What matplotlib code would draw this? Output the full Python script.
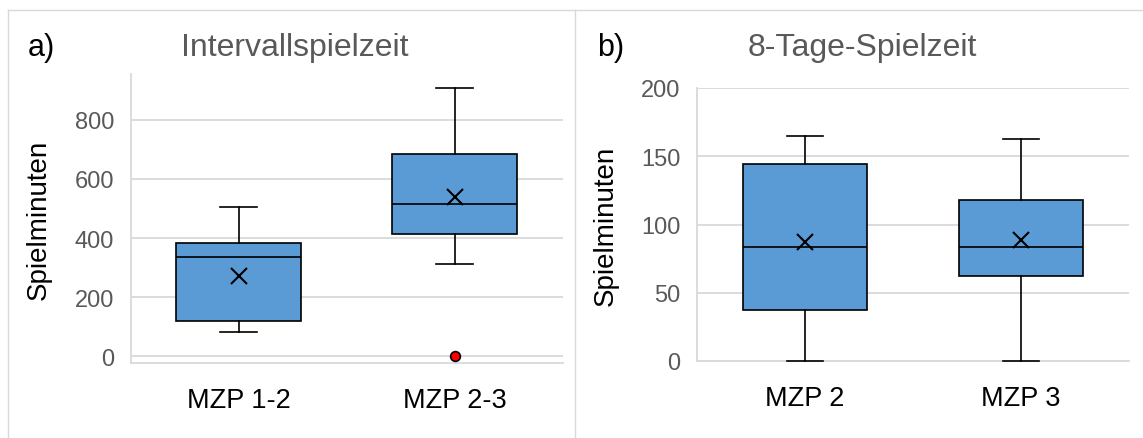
import matplotlib.pyplot as plt
from matplotlib.lines import Line2D

plt.rcParams['font.family'] = ['Liberation Sans', 'DejaVu Sans']

# a) Intervallspielzeit
cats_a = ["MZP 1-2", "MZP 2-3"]
whislo_a = [83, 312]
q1_a = [120, 415]
med_a = [336, 515]
q3_a = [383, 684]
whishi_a = [505, 907]
mean_a = [272, 540]
fliers_a = [[], [0]]

# b) 8-Tage-Spielzeit
cats_b = ["MZP 2", "MZP 3"]
whislo_b = [0, 0]
q1_b = [37, 62]
med_b = [83.5, 83.5]
q3_b = [144, 118]
whishi_b = [164.5, 163]
mean_b = [87, 88.5]
fliers_b = [[], []]

W, H = 1143, 439
grid_col = '#d9d9d9'
text_gray = '#595959'
box_col = '#5B9BD5'

fig = plt.figure(figsize=(W / 100, H / 100), dpi=100)
ax1 = fig.add_axes([130.7 / W, 1 - 364 / H, 432 / W, 289 / H])
ax2 = fig.add_axes([697 / W, 1 - 362 / H, 432 / W, 273 / H])


def draw(ax, cats, whislo, q1, med, q3, whishi, mean, fliers):
    stats = []
    for i in range(len(cats)):
        stats.append(dict(label=cats[i], whislo=whislo[i], q1=q1[i], med=med[i],
                          q3=q3[i], whishi=whishi[i], mean=mean[i], fliers=fliers[i]))
    parts = ax.bxp(stats, positions=[1, 2], widths=0.578, capwidths=0.17,
                   showmeans=True, patch_artist=True, zorder=3,
                   boxprops=dict(facecolor=box_col, edgecolor='black', linewidth=1.2),
                   medianprops=dict(color='black', linewidth=1.2),
                   whiskerprops=dict(color='black', linewidth=1.2),
                   capprops=dict(color='black', linewidth=1.2),
                   meanprops=dict(marker='x', markeredgecolor='black', markersize=12,
                                  markeredgewidth=1.5),
                   flierprops=dict(marker='o', markerfacecolor='red',
                                   markeredgecolor='black', markersize=7,
                                   markeredgewidth=1.2))
    for key in parts:
        for art in parts[key]:
            art.set_clip_on(False)
    ax.set_xlim(0.5, 2.5)
    ax.set_axisbelow(True)
    ax.yaxis.grid(True, color=grid_col, linewidth=1.3)
    for s in ['top', 'right']:
        ax.spines[s].set_visible(False)
    for s in ['left', 'bottom']:
        ax.spines[s].set_color(grid_col)
        ax.spines[s].set_linewidth(1.3)
    ax.tick_params(axis='y', length=0, labelsize=17, labelcolor=text_gray, pad=12)
    ax.tick_params(axis='x', length=0, labelsize=19.5, labelcolor='black', pad=17)


draw(ax1, cats_a, whislo_a, q1_a, med_a, q3_a, whishi_a, mean_a, fliers_a)
ax1.set_ylim(-22, 954)
ax1.set_yticks([0, 200, 400, 600, 800])

draw(ax2, cats_b, whislo_b, q1_b, med_b, q3_b, whishi_b, mean_b, fliers_b)
ax2.set_ylim(0, 200)
ax2.set_yticks([0, 50, 100, 150, 200])

# titles, panel letters, y labels
fig.text(295 / W, 1 - 56 / H, "Intervallspielzeit", ha='center', va='baseline',
         fontsize=23, color=text_gray)
fig.text(862 / W, 1 - 56 / H, "8-Tage-Spielzeit", ha='center', va='baseline',
         fontsize=23, color=text_gray)
fig.text(28 / W, 1 - 56 / H, "a)", ha='left', va='baseline', fontsize=22, color='black')
fig.text(597 / W, 1 - 56 / H, "b)", ha='left', va='baseline', fontsize=22, color='black')
fig.text(39 / W, 1 - 219.5 / H, "Spielminuten", rotation=90, ha='center', va='center',
         fontsize=20, color='black')
fig.text(606 / W, 1 - 225.5 / H, "Spielminuten", rotation=90, ha='center', va='center',
         fontsize=20, color='black')

# chart area borders
tf = fig.transFigure
fig.add_artist(Line2D([8 / W, 8 / W], [0, 1 - 11 / H], transform=tf, color=grid_col, lw=1))
fig.add_artist(Line2D([575 / W, 575 / W], [0, 1 - 11 / H], transform=tf, color=grid_col, lw=1))
fig.add_artist(Line2D([8 / W, 1], [1 - 11 / H, 1 - 11 / H], transform=tf, color=grid_col, lw=1))

fig.savefig("out.png", dpi=100)
